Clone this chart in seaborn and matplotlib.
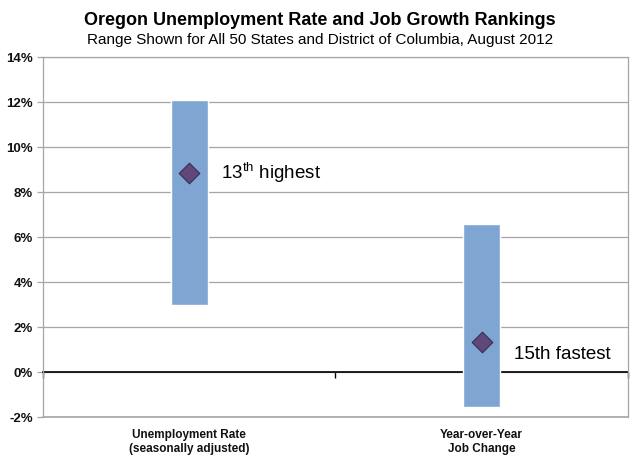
import matplotlib
matplotlib.use("Agg")
import matplotlib.pyplot as plt
import seaborn as sns
import pandas as pd
from matplotlib.ticker import FuncFormatter, MultipleLocator, FixedLocator

# DATA

categories = ["Unemployment Rate\n(seasonally adjusted)", "Year-over-Year\nJob Change"]
range_low = [3.0, -1.55]
range_high = [12.1, 6.6]
oregon = [8.85, 1.35]
labels = ["13$^{\\mathrm{th}}$ highest", "15th fastest"]
label_y = [8.85, 0.8]

df = pd.DataFrame({
    "Category": categories,
    "Low": range_low,
    "Span": [h - l for h, l in zip(range_high, range_low)],
    "Oregon": oregon,
})

# STYLE

sns.set_style("white")
plt.rcParams["font.family"] = ["Liberation Sans", "DejaVu Sans"]
plt.rcParams["mathtext.fontset"] = "custom"
plt.rcParams["mathtext.rm"] = "Liberation Sans"

fig = plt.figure(figsize=(6.4, 4.65), dpi=100)
ax = fig.add_axes([0.067, 0.103, 0.914, 0.774])

# RANGE BARS

ax.bar(
    df.index,
    df["Span"],
    bottom=df["Low"],
    width=0.127,
    color="#7FA6D3",
    zorder=2,
)

# OREGON MARKERS

sns.scatterplot(
    x=df.index,
    y="Oregon",
    data=df,
    marker="D",
    s=110,
    color="#60497A",
    edgecolor="#3A2A50",
    linewidth=0.8,
    zorder=3,
    ax=ax,
)

for i, txt in enumerate(labels):
    ax.text(i + 0.11, label_y[i], txt, fontsize=13.5, va="center", ha="left",
            color="black")

# AXES

ax.set_xlim(-0.5, 1.5)
ax.set_ylim(-2, 14)
ax.yaxis.set_major_locator(MultipleLocator(2))
ax.yaxis.set_major_formatter(FuncFormatter(lambda v, p: f"{v:.0f}%"))
ax.grid(axis="y", color="#A6A6A6", linewidth=0.9, zorder=0)
ax.axhline(-2, color="#A6A6A6", linewidth=1.2, zorder=0, clip_on=False)
ax.set_axisbelow(True)

for side in ["left", "right", "top"]:
    ax.spines[side].set_color("#A6A6A6")
    ax.spines[side].set_linewidth(0.9)
ax.spines["bottom"].set_position(("data", 0))
ax.spines["bottom"].set_color("black")
ax.spines["bottom"].set_linewidth(1.2)
ax.spines["bottom"].set_zorder(1)

ax.set_xticks([0, 1])
ax.set_xticklabels(categories, fontsize=8.5, fontweight="bold", color="#111111")
ax.xaxis.set_minor_locator(FixedLocator([-0.5, 0.5, 1.5]))
ax.tick_params(axis="x", which="major", bottom=True, length=0, pad=41)
ax.tick_params(axis="x", which="minor", bottom=True, length=4, width=1.0,
               color="black", direction="out")
ax.tick_params(axis="y", left=True, length=4, width=0.9, color="#A6A6A6",
               labelsize=9.5, pad=3)
for t in ax.get_yticklabels():
    t.set_fontweight("bold")
    t.set_color("#111111")

ax.set_xlabel("")
ax.set_ylabel("")

fig.text(0.5, 0.955, "Oregon Unemployment Rate and Job Growth Rankings",
         ha="center", va="center", fontsize=13, fontweight="bold", color="black")
fig.text(0.5, 0.914, "Range Shown for All 50 States and District of Columbia, August 2012",
         ha="center", va="center", fontsize=11, color="black")

fig.savefig("out.png", dpi=100)
